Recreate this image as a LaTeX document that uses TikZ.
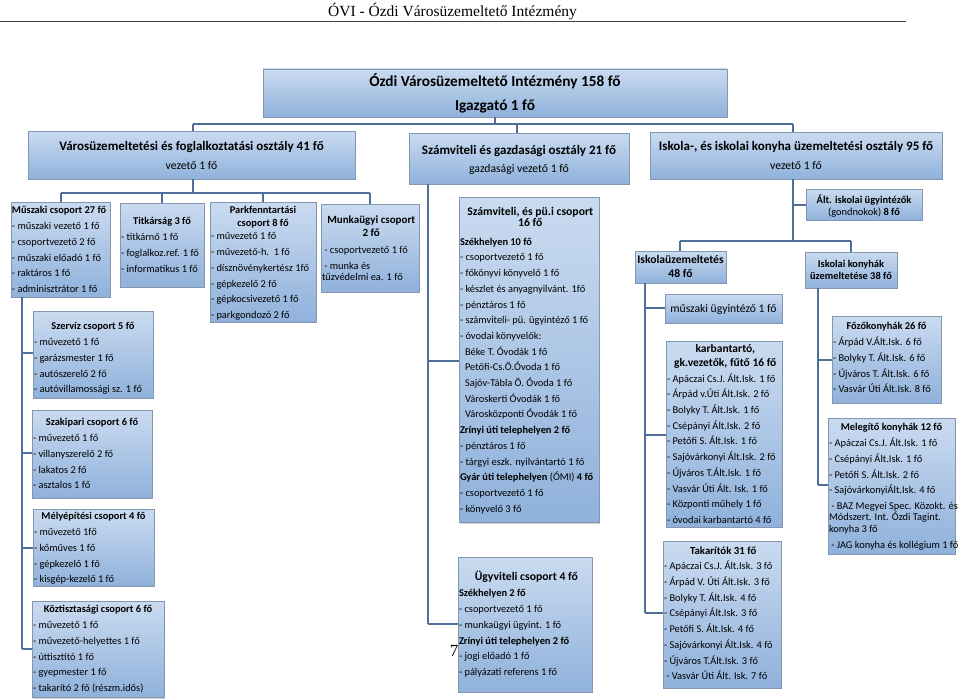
\documentclass[tikz,border=0pt]{standalone}
\usepackage{fontspec}
\setmainfont{Carlito}
\newfontfamily\hdrserif{Liberation Serif}
\usetikzlibrary{shadows}
\definecolor{boxtop}{HTML}{CADBF0}
\definecolor{boxbot}{HTML}{8FB1DB}
\definecolor{boxline}{HTML}{8597B0}
\definecolor{connc}{HTML}{4D6F99}
\newcommand\fsz[1]{\fontsize{#1}{15.7}\selectfont}
\newcommand\itemfont{\fontsize{10.4}{15.7}\selectfont}
\newcommand\bxl[1]{\hbox{\strut #1}}
\newcommand\bxc[1]{\hbox to \hsize{\hss\strut #1\hss}}
\newcommand\bxk[1]{\kern #1pt\relax}
\newcommand\vlines[2]{\vbox{\hsize=#1pt\itemfont\baselineskip=15.7pt\lineskiplimit=-20pt #2}}
\tikzset{
  box/.style={draw=boxline, line width=0.6pt, top color=boxtop, bottom color=boxbot,
    anchor=north west, inner sep=0pt, outer sep=0pt,
    drop shadow={shadow xshift=1.3pt, shadow yshift=-1.3pt, opacity=0.3, fill=black!60}},
  conn/.style={draw=connc, line width=1.2pt},
  txt/.style={anchor=north west, inner sep=0pt, outer sep=0pt, font=\itemfont},
  lbl/.style={anchor=base, inner sep=0pt, outer sep=0pt},
}
\newcommand\mkbox[5]{\node[box, minimum width=#4pt, minimum height=#5pt] (#1) at (#2,#3) {};}
\begin{document}
\begin{tikzpicture}[x=1pt,y=-1pt]
\useasboundingbox (0,0) rectangle (960,698);
\fill[white] (0,0) rectangle (960,698);

% header
\node[lbl, font=\hdrserif\fontsize{15.5}{18}\selectfont] (hdr) at (452.5,17) {ÓVI - Ózdi Városüzemeltető Intézmény};
\coordinate (ruleL) at (0,21.5);
\coordinate (ruleR) at (906,21.5);
\draw[line width=0.7pt, black!75] (ruleL) -- (ruleR);

% ---------- boxes ----------
\mkbox{top}{263}{69}{464}{48}
\mkbox{deptL}{28}{131}{327}{48}
\mkbox{deptM}{409}{133}{220}{51}
\mkbox{deptR}{650}{132}{292}{47}

\mkbox{mus}{11}{202}{99}{95}
\mkbox{tit}{120}{203}{84}{84}
\mkbox{park}{210}{202}{106}{120}
\mkbox{mun}{321}{204}{98}{88}
\mkbox{szerv}{33}{311}{120}{87}
\mkbox{szak}{32}{410}{120}{88}
\mkbox{mely}{33}{509}{121}{77}
\mkbox{kozt}{32}{601}{132}{96.5}

\mkbox{szam}{459}{197.5}{140}{325}
\mkbox{ugy}{458}{557}{134}{135}

\mkbox{alt}{806}{189}{116}{31}
\mkbox{isk}{635}{251}{91}{32}
\mkbox{konyh}{805}{252}{92}{36}
\mkbox{mui}{665}{294}{117}{29}
\mkbox{karb}{666}{341}{116}{186}
\mkbox{tak}{663}{541}{118}{147}
\mkbox{fozo}{832}{316}{109}{87}
\mkbox{meleg}{828}{418}{127}{136}

% ---------- texts ----------
\node[lbl, font=\fontsize{15.3}{18}\selectfont\bfseries] (topA) at (495,86.5) {Ózdi Városüzemeltető Intézmény 158 fő};
\node[lbl, font=\fontsize{15.3}{18}\selectfont\bfseries] (topB) at (495,110.5) {Igazgató 1 fő};

\node[lbl, font=\fontsize{13}{16}\selectfont\bfseries] (dLa) at (191.5,150.5) {Városüzemeltetési és foglalkoztatási osztály 41 fő};
\node[lbl, font=\fontsize{11.7}{15}\selectfont] (dLb) at (191.5,169.5) {vezető 1 fő};
\node[lbl, font=\fontsize{13}{16}\selectfont\bfseries] (dMa) at (519,154.5) {Számviteli és gazdasági osztály 21 fő};
\node[lbl, font=\fontsize{11.7}{15}\selectfont] (dMb) at (519,172) {gazdasági vezető 1 fő};
\node[lbl, font=\fontsize{13}{16}\selectfont\bfseries] (dRa) at (796,150.5) {Iskola-, és iskolai konyha üzemeltetési osztály 95 fő};
\node[lbl, font=\fontsize{11.7}{15}\selectfont] (dRb) at (796,169.5) {vezető 1 fő};

\node[txt] (must) at (12,203) {\vlines{97}{%
\bxl{\bfseries Műszaki csoport 27 fő}\bxl{- műszaki vezető 1 fő}\bxl{- csoportvezető 2 fő}%
\bxl{- műszaki előadó 1 fő}\bxl{- raktáros 1 fő}\bxl{- adminisztrátor 1 fő}}};

\node[txt] (titt) at (121,214) {\vlines{82}{%
\bxc{\bfseries Titkárság 3 fő}\bxl{- titkárnő 1 fő}\bxl{- foglalkoz.ref. 1 fő}\bxl{- informatikus 1 fő}}};

\node[txt] (parkt) at (211,203) {\vlines{104}{%
\bxc{\bfseries Parkfenntartási}\bxk{-2.7}\bxc{\bfseries csoport 8 fő}\bxk{-2.7}%
\bxl{- művezető 1 fő}\bxl{- művezető-h.\ \ 1 fő}\bxl{- dísznövénykertész 1fő}%
\bxl{- gépkezelő 2 fő}\bxl{- gépkocsivezető 1 fő}\bxl{- parkgondozó 2 fő}}};

\node[txt] (munt) at (322,213) {\vlines{96}{%
\bxc{\bfseries\fsz{11} Munkaügyi csoport}\bxk{-3}\bxc{\bfseries\fsz{11} 2 fő}\bxk{1.4}%
\bxl{\ - csoportvezető 1 fő}\bxl{\ - munka és}\bxk{-4.2}\bxl{tűzvédelmi ea. 1 fő}}};

\node[txt] (szervt) at (34,319) {\vlines{118}{%
\bxc{\bfseries Szervíz csoport 5 fő}\bxl{- művezető 1 fő}\bxl{- garázsmester 1 fő}%
\bxl{- autószerelő 2 fő}\bxl{- autóvillamossági sz. 1 fő}}};

\node[txt] (szakt) at (33,415) {\vlines{118}{%
\bxc{\bfseries Szakipari csoport 6 fő}\bxl{- művezető 1 fő}\bxl{- villanyszerelő 2 fő}%
\bxl{- lakatos 2 fő}\bxl{- asztalos 1 fő}}};

\node[txt] (melyt) at (34,509) {\vlines{119}{%
\bxc{\bfseries Mélyépítési csoport 4 fő}\bxl{- művezető 1fő}\bxl{- kőműves 1 fő}%
\bxl{- gépkezelő 1 fő}\bxl{- kisgép-kezelő 1 fő}}};

\node[txt] (koztt) at (33,602) {\vlines{130}{%
\bxc{\bfseries Köztisztasági csoport 6 fő}\bxl{- művezető 1 fő}\bxl{- művezető-helyettes 1 fő}%
\bxl{- úttisztító 1 fő}\bxl{- gyepmester 1 fő}\bxl{- takarító 2 fő (részm.idős)}}};

\node[txt] (szamt) at (460,205) {\vlines{138}{%
\bxc{\bfseries\fsz{11.7} Számviteli, és pü.i csoport}\bxk{-4.7}\bxc{\bfseries\fsz{11.7} 16 fő}\bxk{2.6}%
\bxl{\bfseries Székhelyen 10 fő}\bxl{- csoportvezető 1 fő}\bxl{- főkönyvi könyvelő 1 fő}%
\bxl{- készlet és anyagnyilvánt. 1fő}\bxl{- pénztáros 1 fő}\bxl{- számviteli- pü. ügyintéző 1 fő}%
\bxl{- óvodai könyvelők:}\bxl{\hspace{5pt}Béke T. Óvodák 1 fő}\bxl{\hspace{5pt}Petőfi-Cs.Ö.Óvoda 1 fő}%
\bxl{\hspace{5pt}Sajóv-Tábla Ö. Óvoda 1 fő}\bxl{\hspace{5pt}Városkerti Óvodák 1 fő}%
\bxl{\hspace{5pt}Városközponti Óvodák 1 fő}\bxl{\bfseries Zrínyi úti telephelyen 2 fő}%
\bxl{- pénztáros 1 fő}\bxl{- tárgyi eszk. nyilvántartó 1 fő}%
\bxl{\bfseries Gyár úti telephelyen \mdseries(ÓMI) \bfseries 4 fő}\bxl{- csoportvezető 1 fő}\bxl{- könyvelő 3 fő}}};

\node[txt] (ugyt) at (459,569.5) {\vlines{132}{%
\bxc{\bfseries\fsz{11.7} Ügyviteli csoport 4 fő}\bxk{0.8}\bxl{\bfseries Székhelyen 2 fő}%
\bxl{- csoportvezető 1 fő}\bxl{- munkaügyi ügyint. 1 fő}\bxl{\bfseries Zrínyi úti telephelyen 2 fő}%
\bxl{- jogi előadó 1 fő}\bxl{- pályázati referens 1 fő}}};

\node[lbl, font=\hdrserif\fontsize{17}{20}\selectfont] (pg) at (454,656.7) {7};

\node[lbl, font=\itemfont\bfseries] (alta) at (864,203.6) {Ált. iskolai ügyintézők};
\node[lbl, font=\itemfont] (altb) at (864,215.6) {(gondnokok) \textbf{8 fő}};

\node[lbl, font=\fontsize{11.6}{15}\selectfont\bfseries] (iska) at (680.5,263.5) {Iskolaüzemeltetés};
\node[lbl, font=\fontsize{11.6}{15}\selectfont\bfseries] (iskb) at (680.5,277) {48 fő};

\node[lbl, font=\itemfont\bfseries] (konyha) at (851,267.1) {Iskolai konyhák};
\node[lbl, font=\itemfont\bfseries] (konyhb) at (851,279.6) {üzemeltetése 38 fő};

\node[lbl, font=\fontsize{11.6}{15}\selectfont] (muit) at (723.5,312) {műszaki ügyintéző 1 fő};

\node[txt] (karbt) at (667,341.5) {\vlines{114}{%
\bxc{\bfseries\fsz{11.5} karbantartó,}\bxk{-1.7}\bxc{\bfseries\fsz{11.5} gk.vezetők, fűtő 16 fő}%
\bxl{- Apáczai Cs.J. Ált.Isk. 1 fő}\bxl{- Árpád v.Úti Ált.Isk. 2 fő}\bxl{- Bolyky T. Ált.Isk. 1 fő}%
\bxl{- Csépányi Ált.Isk. 2 fő}\bxl{- Petőfi S. Ált.Isk. 1 fő}\bxl{- Sajóvárkonyi Ált.Isk. 2 fő}%
\bxl{- Újváros T.Ált.Isk. 1 fő}\bxl{- Vasvár Úti Ált. Isk. 1 fő}\bxl{- Központi műhely 1 fő}%
\bxl{- óvodai karbantartó 4 fő}}};

\node[txt] (takt) at (664,543.2) {\vlines{116}{%
\bxc{\bfseries\fsz{10.8} Takarítók 31 fő}\bxl{- Apáczai Cs.J. Ált.Isk. 3 fő}\bxl{- Árpád V. Úti Ált.Isk. 3 fő}%
\bxl{- Bolyky T. Ált.Isk. 4 fő}\bxl{- Csépányi Ált.Isk. 3 fő}\bxl{- Petőfi S. Ált.Isk. 4 fő}%
\bxl{- Sajóvárkonyi Ált.Isk. 4 fő}\bxl{- Újváros T.Ált.Isk. 3 fő}\bxl{\ - Vasvár Úti Ált. Isk. 7 fő}}};

\node[txt] (fozot) at (833,319) {\vlines{107}{%
\bxc{\bfseries Főzőkonyhák 26 fő}\bxl{- Árpád V.Ált.Isk. 6 fő}\bxl{- Bolyky T. Ált.Isk. 6 fő}%
\bxl{- Újváros T. Ált.Isk. 6 fő}\bxl{- Vasvár Úti Ált.Isk. 8 fő}}};

\node[txt] (melegt) at (829,420) {\vlines{125}{%
\bxc{\bfseries Melegítő konyhák 12 fő}\bxl{- Apáczai Cs.J. Ált.Isk. 1 fő}\bxl{- Csépányi Ált.Isk. 1 fő}%
\bxl{- Petőfi S. Ált.Isk. 2 fő}\bxl{- SajóvárkonyiÁlt.Isk. 4 fő}\bxl{\ - BAZ Megyei Spec. Közokt. és}\bxk{-4.2}%
\bxl{Módszert. Int. Ózdi Tagint.}\bxk{-4.2}\bxl{konyha 3 fő}\bxl{\ - JAG konyha és kollégium 1 fő}}};

% ---------- connectors ----------
\coordinate (j0) at (495,124);
\coordinate (jL) at (193,124);
\coordinate (jM) at (517,124);
\coordinate (jR) at (793,124);
\draw[conn] (top.south) -- (j0);
\draw[conn] (jL) -- (jR);
\draw[conn] (jL) -- (jL |- deptL.north);
\draw[conn] (jM) -- (jM |- deptM.north);
\draw[conn] (jR) -- (jR |- deptR.north);

\coordinate (k0) at (193,193);
\coordinate (k1) at (61,193);
\coordinate (k2) at (162,193);
\coordinate (k3) at (263,193);
\coordinate (k4) at (370,193);
\draw[conn] (k0 |- deptL.south) -- (k0);
\draw[conn] (k1) -- (k4);
\draw[conn] (k1) -- (k1 |- mus.north);
\draw[conn] (k2) -- (k2 |- tit.north);
\draw[conn] (k3) -- (k3 |- park.north);
\draw[conn] (k4) -- (k4 |- mun.north);

\coordinate (lv1) at (22,353);
\coordinate (lv2) at (22,453);
\coordinate (lv3) at (22,548);
\coordinate (lv4) at (22,649);
\draw[conn] (lv4 |- mus.south) -- (lv4);
\draw[conn] (lv1) -- (lv1 -| szerv.west);
\draw[conn] (lv2) -- (lv2 -| szak.west);
\draw[conn] (lv3) -- (lv3 -| mely.west);
\draw[conn] (lv4) -- (lv4 -| kozt.west);

\coordinate (m1) at (428,361);
\coordinate (m2) at (428,624);
\draw[conn] (m2 |- deptM.south) -- (m2);
\draw[conn] (m1) -- (m1 -| szam.west);
\draw[conn] (m2) -- (m2 -| ugy.west);

\coordinate (r1) at (793,205);
\coordinate (r2) at (793,241);
\coordinate (r3) at (680,241);
\coordinate (r4) at (851,241);
\draw[conn] (r2 |- deptR.south) -- (r2);
\draw[conn] (r1) -- (r1 -| alt.west);
\draw[conn] (r3) -- (r4);
\draw[conn] (r3) -- (r3 |- isk.north);
\draw[conn] (r4) -- (r4 |- konyh.north);

\coordinate (s1) at (645,308);
\coordinate (s2) at (645,435);
\coordinate (s3) at (645,613);
\draw[conn] (s3 |- isk.south) -- (s3);
\draw[conn] (s1) -- (s1 -| mui.west);
\draw[conn] (s2) -- (s2 -| karb.west);
\draw[conn] (s3) -- (s3 -| tak.west);

\coordinate (t1) at (818,360);
\coordinate (t2) at (818,485);
\draw[conn] (t2 |- konyh.south) -- (t2);
\draw[conn] (t1) -- (t1 -| fozo.west);
\draw[conn] (t2) -- (t2 -| meleg.west);
\end{tikzpicture}
\end{document}
